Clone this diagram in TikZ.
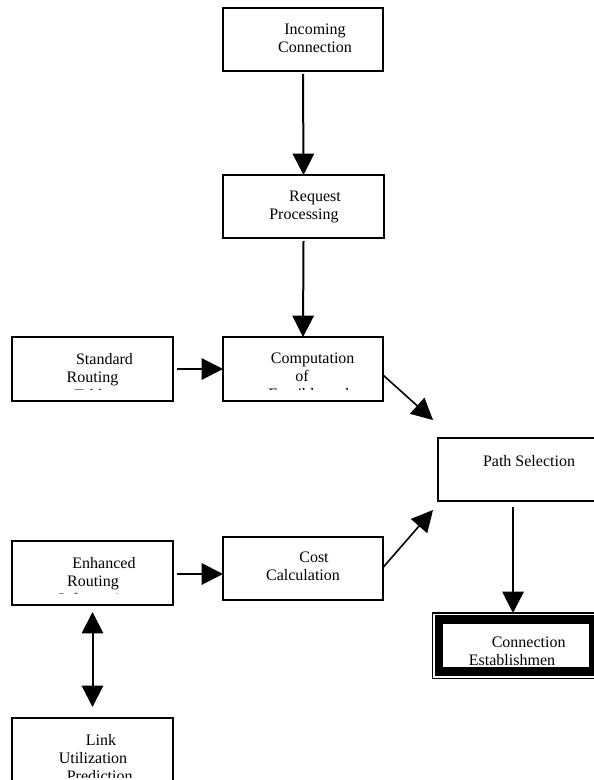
\documentclass[tikz,border=0pt]{standalone}
\usepackage{fontspec}
\setmainfont{Liberation Serif}
\usetikzlibrary{arrows.meta}
\begin{document}
\begin{tikzpicture}[x=0.75pt,y=-0.75pt,
  box/.style={draw,line width=2pt,rectangle,inner sep=0pt,outer sep=0pt},
  txt/.style={anchor=north,align=center,inner sep=0pt,font=\fontsize{12}{13.4}\selectfont},
  arr/.style={line width=1.5pt,-{Triangle[length=16pt,width=16pt]}},
  darr/.style={line width=1.5pt,{Triangle[length=16pt,width=16pt]}-{Triangle[length=16pt,width=16pt]}},
  thinarr/.style={arr,line width=1.2pt}
]
\useasboundingbox (0,0) rectangle (593,780);

% boxes
\node[box,minimum width=120pt,minimum height=47.25pt] (inc) at (303,39.5) {};
\node[box,minimum width=120.75pt,minimum height=47.25pt] (req) at (303.5,206.5) {};
\node[box,minimum width=120.75pt,minimum height=48pt] (std) at (92.5,369) {};
\node[box,minimum width=120pt,minimum height=48pt] (comp) at (303,369) {};
\node[box,minimum width=136.5pt,minimum height=47.25pt] (path) at (529,469.5) {};
\node[box,minimum width=120.75pt,minimum height=48pt] (enh) at (92.5,573) {};
\node[box,minimum width=120pt,minimum height=47.25pt] (cost) at (303,568.5) {};
\node[box,minimum width=120.75pt,minimum height=54pt] (link) at (92.5,754) {};
\node[draw,line width=0.8pt,rectangle,inner sep=0pt,outer sep=0pt,minimum width=125.25pt,minimum height=49.125pt] (connf) at (516,645.75) {};
\node[draw,line width=6.5pt,rectangle,inner sep=0pt,outer sep=0pt,minimum width=115.5pt,minimum height=39pt] (conn) at (516,645.5) {};

% texts
\begin{scope}\clip (inc.north west) rectangle ([shift={(0,-10)}]inc.south east);
\node[txt] (inct) at ([shift={(12,16)}]inc.north) {Incoming\\Connection};
\end{scope}
\begin{scope}\clip (req.north west) rectangle ([shift={(0,-10)}]req.south east);
\node[txt] (reqt) at ([shift={(0.5,16)}]req.north) {\hspace*{16.5pt}Request\\Processing};
\end{scope}
\begin{scope}\clip (std.north west) rectangle ([shift={(0,-12)}]std.south east);
\node[txt] (stdt) at ([shift={(0,16)}]std.north) {\hspace*{18pt}Standard\\Routing\\\hspace*{4pt}Tables};
\end{scope}
\begin{scope}\clip (comp.north west) rectangle ([shift={(0,-12)}]comp.south east);
\node[txt] (compt) at ([shift={(-1,16)}]comp.north) {\hspace*{16pt}Computation\\of\\\hspace*{18pt}Feasible paths};
\end{scope}
\begin{scope}\clip (path.north west) rectangle ([shift={(0,-10)}]path.south east);
\node[txt] (patht) at ([shift={(0,17)}]path.north) {Path Selection};
\end{scope}
\begin{scope}\clip (enh.north west) rectangle ([shift={(0,-12)}]enh.south east);
\node[txt] (enht) at ([shift={(0.5,16)}]enh.north) {\hspace*{16.5pt}Enhanced\\Routing\\\hspace*{6pt}Information};
\end{scope}
\begin{scope}\clip (cost.north west) rectangle ([shift={(0,-10)}]cost.south east);
\node[txt] (costt) at ([shift={(0,15)}]cost.north) {\hspace*{16.5pt}Cost\\Calculation};
\end{scope}
\begin{scope}\clip (link.north west) rectangle ([shift={(0,-13)}]link.south east);
\node[txt] (linkt) at ([shift={(0.5,16)}]link.north) {\hspace*{12pt}Link\\Utilization\\\hspace*{10pt}Prediction};
\end{scope}
\begin{scope}\clip ([shift={(4,4)}]conn.north west) rectangle ([shift={(-4,-4)}]conn.south east);
\node[txt] (connt) at ([shift={(-4,17.5)}]conn.north) {\hspace*{25pt}Connection\\Establishmen};
\end{scope}

% connectors
\draw[arr] ([shift={(0,3)}]inc.south) -- (req.north);
\draw[arr] ([shift={(0,3)}]req.south) -- (comp.north);
\draw[arr] ([shift={(4,0)}]std.east) -- (comp.west);
\draw[thinarr] ([shift={(0,6)}]comp.east) -- ([shift={(-5,-18)}]path.north west);
\draw[thinarr] ([shift={(0,-1)}]cost.east) -- ([shift={(-5,9)}]path.south west);
\draw[arr] ([shift={(4,1)}]enh.east) -- ([shift={(0,1)}]enh.east -| cost.west);
\draw[arr] ([shift={(-16,6)}]path.south) -- ([shift={(-16,0)}]path.south |- connf.north);
\draw[darr] ([shift={(0,7)}]enh.south) -- ([shift={(0,-11)}]link.north);
\end{tikzpicture}
\end{document}
